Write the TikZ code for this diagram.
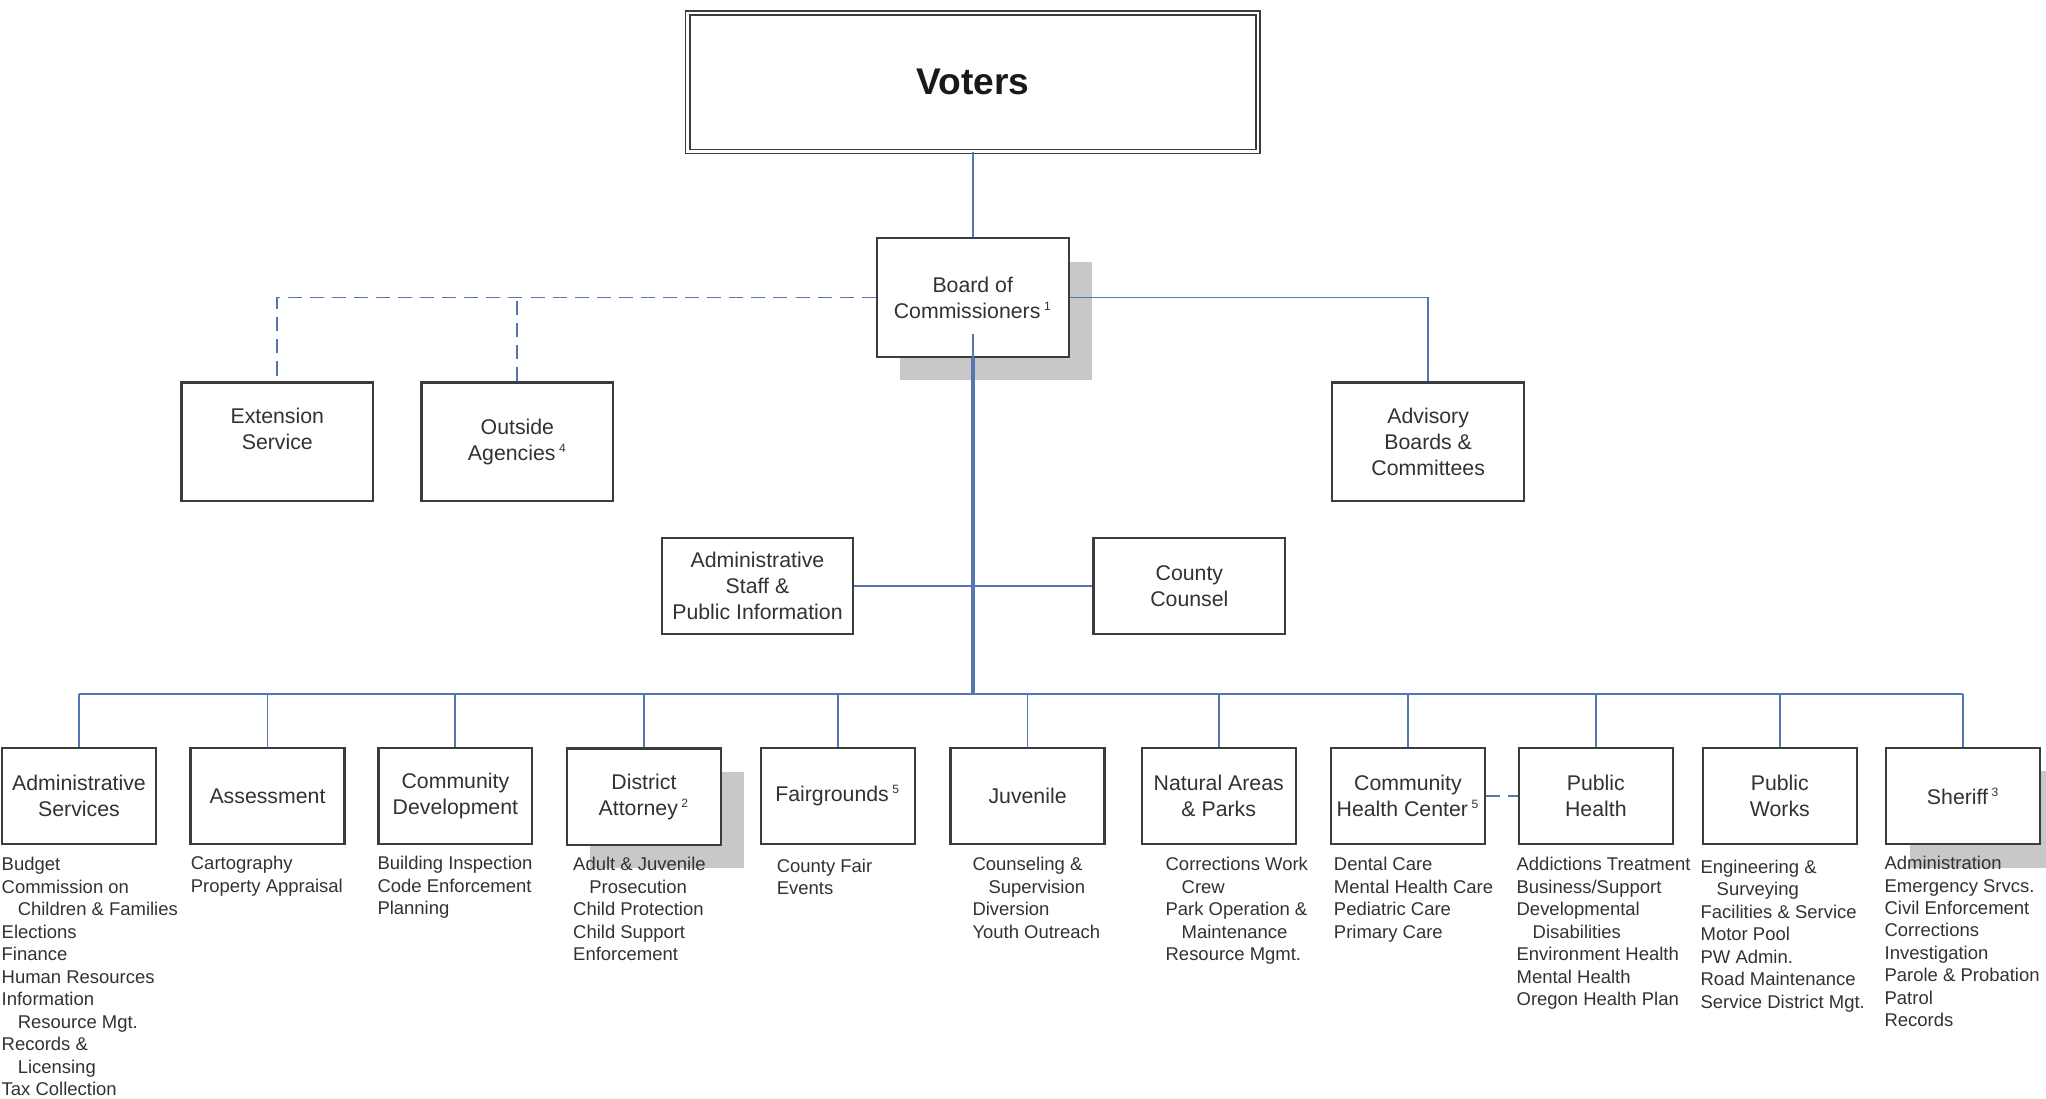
\documentclass[tikz,border=0pt]{standalone}
\usepackage{fontspec}
\setmainfont{Liberation Sans}
\usetikzlibrary{shadows}
\definecolor{conn}{RGB}{84,118,178}
\definecolor{boxline}{RGB}{60,60,60}
\definecolor{txt}{RGB}{50,50,50}
\definecolor{shade}{RGB}{200,200,200}
\newcommand\supr[1]{\textsuperscript{\fontsize{6}{6}\selectfont #1}}
\newcommand\boxfont{\fontsize{10.6}{13}\selectfont}
\newcommand\listfont{\fontsize{9.2}{11.2}\selectfont}
\newcommand\ind{\hspace*{8pt}}
\begin{document}
\begin{tikzpicture}[x=0.65pt,y=-0.65pt,
  orgbox/.style={draw=boxline, line width=1.1pt, fill=white, align=center, font=\boxfont, text=txt, inner sep=0pt},
  upbox/.style={orgbox, minimum width=95.5pt, minimum height=59pt},
  midbox/.style={orgbox, minimum width=95.5pt, minimum height=48pt},
  deptbox/.style={orgbox, minimum width=76.7pt, minimum height=48pt},
  shadowed/.style={drop shadow={shadow xshift=11.7pt, shadow yshift=-11.7pt, fill=shade, opacity=1}},
  list/.style={anchor=north west, align=left, font=\listfont, text=txt, inner sep=0pt},
  link/.style={draw=conn, line width=0.9pt},
  buslink/.style={draw=conn, line width=1.2pt},
  dlink/.style={link, dash pattern=on 7pt off 4pt},
  trunk/.style={draw=conn, line width=2pt},
]
\useasboundingbox (0,0) rectangle (1568,842.2);

% top
\node[draw=boxline, double=white, double distance=1.3pt, line width=0.8pt, fill=white,
      minimum width=284pt, minimum height=69pt, inner sep=0pt,
      font=\fontsize{18.5}{22}\selectfont\bfseries, text=black!90] (voters) at (745.5,63) {Voters};
\node[upbox, shadowed] (board) at (745.5,228) {Board of\\Commissioners\,\supr{1}};
\node[upbox] (ext) at (212.5,338.5) {Extension\\Service\\\mbox{}};
\node[upbox] (outside) at (396.5,338.5) {Outside\\Agencies\,\supr{4}};
\node[upbox] (advisory) at (1094.5,338.5) {Advisory\\Boards \&\\Committees};
\node[midbox] (staff) at (580.5,449) {Administrative\\Staff \&\\Public Information};
\node[midbox] (county) at (911.5,449) {County\\Counsel};

% departments
\node[deptbox] (d1) at (60.5,610) {Administrative\\Services};
\node[deptbox] (d2) at (205,610) {Assessment};
\node[deptbox] (d3) at (349,610) {Community\\Development};
\node[deptbox, shadowed] (d4) at (493.5,610.5) {District\\Attorney\,\supr{2}};
\node[deptbox] (d5) at (642,610) {Fairgrounds\,\supr{5}};
\node[deptbox] (d6) at (787.5,610) {Juvenile};
\node[deptbox] (d7) at (934,610) {Natural Areas\\\& Parks};
\node[deptbox] (d8) at (1079,610) {Community\\Health Center\,\supr{5}};
\node[deptbox] (d9) at (1223,610) {Public\\Health};
\node[deptbox] (d10) at (1364,610) {Public\\Works};
\node[deptbox, shadowed] (d11) at (1504.5,610) {Sheriff\,\supr{3}};

% lists
\node[list] (l1) at (1,655) {\strut Budget\\Commission on\\\ind Children \& Families\\Elections\\Finance\\Human Resources\\Information\\\ind Resource Mgt.\\Records \&\\\ind Licensing\\Tax Collection};
\node[list] (l2) at (146,654) {\strut Cartography\\Property Appraisal};
\node[list] (l3) at (289,654) {\strut Building Inspection\\Code Enforcement\\Planning};
\node[list] (l4) at (439,655) {\strut Adult \& Juvenile\\\ind Prosecution\\Child Protection\\Child Support\\Enforcement};
\node[list] (l5) at (595,656) {\strut County Fair\\Events};
\node[list] (l6) at (745,655) {\strut Counseling \&\\\ind Supervision\\Diversion\\Youth Outreach};
\node[list] (l7) at (893,655) {\strut Corrections Work\\\ind Crew\\Park Operation \&\\\ind Maintenance\\Resource Mgmt.};
\node[list] (l8) at (1022,655) {\strut Dental Care\\Mental Health Care\\Pediatric Care\\Primary Care};
\node[list] (l9) at (1162,655) {\strut Addictions Treatment\\Business/Support\\Developmental\\\ind Disabilities\\Environment Health\\Mental Health\\Oregon Health Plan};
\node[list] (l10) at (1303,657) {\strut Engineering \&\\\ind Surveying\\Facilities \& Service\\Motor Pool\\PW Admin.\\Road Maintenance\\Service District Mgt.};
\node[list] (l11) at (1444,654) {\strut Administration\\Emergency Srvcs.\\Civil Enforcement\\Corrections\\Investigation\\Parole \& Probation\\Patrol\\Records};

% connectors
\coordinate (bus) at (745.5,532);
\draw[link] (voters.south) -- (board.north);
\draw[link] (board.east) -| (advisory.north);
\draw[dlink] (board.west) -| (ext.north);
\draw[dlink] (outside.north) -- (outside.north |- board.west);
\draw[trunk] (board.south) -- (bus);
\draw[link] (board.south) -- ++(0,-18);
\draw[link] (staff.east) -- (county.west);
\draw[buslink] (d1.north |- bus) -- (d11.north |- bus);
\foreach \i in {1,...,11} \draw[link] (d\i.north) -- (d\i.north |- bus);
\draw[dlink] (d8.east) -- (d9.west);
\end{tikzpicture}
\end{document}
